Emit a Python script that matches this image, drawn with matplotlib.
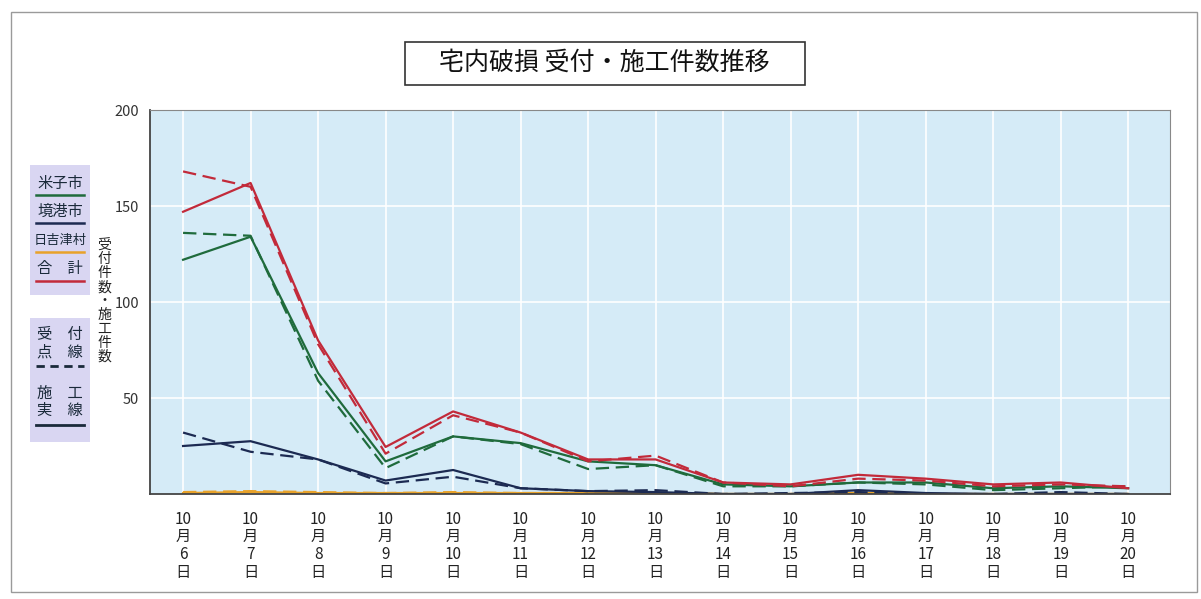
import matplotlib
matplotlib.use("Agg")
import matplotlib.pyplot as plt
from matplotlib.patches import Rectangle
from matplotlib.lines import Line2D

plt.rcParams['font.family'] = ['Noto Sans CJK JP', 'DejaVu Sans']

# 日付
days = [6, 7, 8, 9, 10, 11, 12, 13, 14, 15, 16, 17, 18, 19, 20]
x_labels = [f"10\n月\n{d}\n日" for d in days]

# 施工件数（実線）
yonago_done = [122, 134, 63, 17, 30, 26.5, 17, 15, 5, 4, 6, 6, 3, 4, 3]
sakai_done = [25, 27.5, 18, 7, 12.5, 3, 1.5, 1, 0, 0, 2, 0.5, 0, 0, 0]
hiezu_done = [0.5, 1, 0.5, 0.5, 0.5, 0.5, 0.5, 0.5, 0, 0, 0.5, 0, 0, 0, 0]
total_done = [147, 162, 80, 24.5, 43, 32, 18, 18, 6, 5, 10, 8, 5, 6, 3]

# 受付件数（点線）
yonago_recv = [136, 134.5, 59, 13.5, 30, 26, 13, 15, 4, 4, 6, 5, 2, 3, 4]
sakai_recv = [32, 22, 18, 5.5, 9, 3, 1.5, 2, 0, 0.5, 1, 0, 0, 1, 0]
hiezu_recv = [1, 1.5, 1, 0.5, 1, 0.5, 0.5, 0.5, 0, 0, 0.5, 0, 0, 0, 0]
total_recv = [168, 160, 78, 21, 41, 32, 17, 20, 6, 4, 8, 7, 4, 5, 4]

y_ticks = [50, 100, 150, 200]
y_label = "受付件数・施工件数"
title = "宅内破損 受付・施工件数推移"

c_yonago = "#1f6b3c"
c_sakai = "#1c2a52"
c_hiezu = "#e8a22a"
c_total = "#c22a3a"

fig = plt.figure(figsize=(12.01, 5.99), dpi=100)
fig.patch.set_facecolor("white")

ax = fig.add_axes([150 / 1201, 105 / 599, 1020 / 1201, 384 / 599])
ax.set_facecolor("#d5ebf7")
xs = list(range(len(days)))

dash = (0, (6, 3))
series = [
    (hiezu_done, hiezu_recv, c_hiezu),
    (sakai_done, sakai_recv, c_sakai),
    (yonago_done, yonago_recv, c_yonago),
    (total_done, total_recv, c_total),
]
for done, recv, col in series:
    ax.plot(xs, recv, color=col, lw=1.6, linestyle=dash)
    ax.plot(xs, done, color=col, lw=1.6)

ax.set_xlim(-0.49, 14.62)
ax.set_ylim(0, 200)
ax.set_xticks(xs)
ax.set_xticklabels(x_labels, fontsize=11, linespacing=1.05, color="#222222")
ax.set_yticks(y_ticks)
ax.set_yticklabels([str(v) for v in y_ticks], fontsize=10.5, color="#333333")
ax.tick_params(axis="x", length=0, pad=12)
ax.tick_params(axis="y", length=0, pad=8)
ax.grid(True, color="white", lw=1.2)
ax.set_axisbelow(True)
for side in ("left", "bottom"):
    ax.spines[side].set_color("#444444")
    ax.spines[side].set_linewidth(1.3)
for side in ("top", "right"):
    ax.spines[side].set_color("#888888")
    ax.spines[side].set_linewidth(0.8)


def px(x, y):
    return x / 1201, 1 - y / 599


# 縦書きの軸ラベル（一文字ずつ配置）
step = 13.9
y0 = 301 - step * (len(y_label) - 1) / 2
for i, ch in enumerate(y_label):
    fig.text(*px(104, y0 + i * step), ch, ha="center", va="center",
             fontsize=10, color="#222222")

# タイトルと枠
fig.patches.append(Rectangle(px(405, 85), 400 / 1201, 43 / 599,
                             transform=fig.transFigure, facecolor="white",
                             edgecolor="#333333", lw=1.2))
fig.text(*px(604, 63), title, ha="center", va="center",
         fontsize=18, color="#111111")

# 凡例の背景
lav = "#d9d6f2"
fig.patches.append(Rectangle(px(30, 295), 60 / 1201, 130 / 599,
                             transform=fig.transFigure, facecolor=lav,
                             edgecolor="none"))
fig.patches.append(Rectangle(px(30, 442), 60 / 1201, 124 / 599,
                             transform=fig.transFigure, facecolor=lav,
                             edgecolor="none"))

# 凡例（地区）
legend_items = [("米子市", c_yonago, 185), ("境港市", c_sakai, 213),
                ("日吉津村", c_hiezu, 242), ("合　計", c_total, 271)]
for text, col, yy in legend_items:
    size = 9.5 if len(text) == 4 else 11
    fig.text(*px(60, yy - 2), text, ha="center", va="center",
             fontsize=size, color="#1a2a3a")
    fig.lines.append(Line2D([36 / 1201, 84 / 1201], [1 - (yy + 10) / 599] * 2,
                            transform=fig.transFigure, color=col, lw=1.8))

# 凡例（線種）
fig.text(*px(60, 343), "受　付\n点　線", ha="center", va="center",
         fontsize=11, linespacing=1.05, color="#1a2a3a")
fig.lines.append(Line2D([36 / 1201, 84 / 1201], [1 - 366 / 599] * 2,
                        transform=fig.transFigure, color="#1a2a3a", lw=2,
                        linestyle=(0, (3, 2))))
fig.text(*px(60, 402), "施　工\n実　線", ha="center", va="center",
         fontsize=11, linespacing=1.05, color="#1a2a3a")
fig.lines.append(Line2D([36 / 1201, 84 / 1201], [1 - 425 / 599] * 2,
                        transform=fig.transFigure, color="#1a2a3a", lw=2))

# 外枠
fig.patches.append(Rectangle(px(11, 592), 1186 / 1201, 580 / 599,
                             transform=fig.transFigure, facecolor="none",
                             edgecolor="#9a9a9a", lw=1.0))

fig.savefig("out.png", dpi=100)
